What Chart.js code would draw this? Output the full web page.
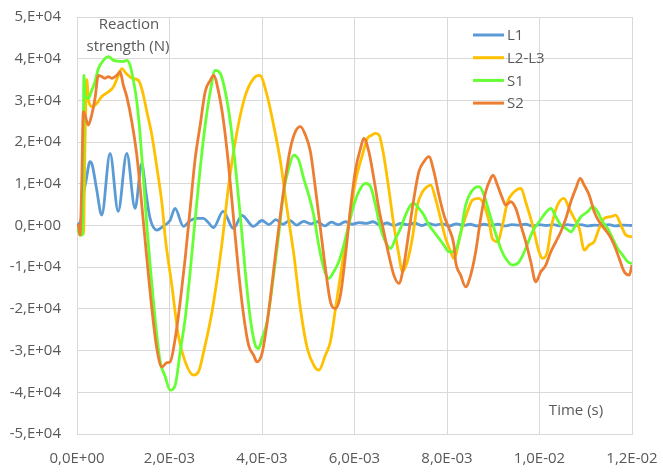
<!DOCTYPE html>
<html><head><meta charset="utf-8">
<script src="https://cdn.jsdelivr.net/npm/chart.js@4.4.1/dist/chart.umd.min.js"></script>
<style>html,body{margin:0;padding:0;background:#fff}#wrap{width:663px;height:474px;position:relative}</style>
</head><body><div id="wrap"><canvas id="c" width="663" height="474"></canvas></div>
<script>
// Series names and colours
const seriesNames = ['L1', 'L2-L3', 'S1', 'S2'];
const seriesColors = ['#5B9BD5', '#FFC000', '#66FF33', '#ED7D31'];

// Time in ms, reaction strength in kN
const timeL1 = [0,0.1,0.15,0.2,0.28,0.33,0.42,0.535,0.715,0.89,1.076,1.256,1.40,1.49,1.58,1.73,1.86,2.01,2.12,2.30,2.45,2.59,2.73,2.84,2.95,3.16,3.38,3.57,3.81,4.0,4.15,4.3,4.45,4.6,4.75,4.9,5.05,5.2,5.35,5.5,5.65,5.8,5.95,6.1,6.25,6.4,6.55,6.7,6.85,7.0,7.15,7.3,7.45,7.6,7.75,7.9,8.05,8.2,8.35,8.5,8.65,8.8,8.95,9.1,9.25,9.4,9.55,9.7,9.85,10.0,10.15,10.3,10.45,10.6,10.75,10.9,11.05,11.2,11.35,11.5,11.65,11.8,12.0];
const valL1 = [0,2,8,11,15.3,14.5,9,2.5,17.3,3.4,17.3,4.1,14.9,8,1.7,-1.1,-0.2,1.2,4.1,-0.2,1.2,1.7,1.7,0.7,-0.5,3.4,-0.7,2.4,-0.2,1.2,0.2,1.4,0.3,1.2,0.1,1.0,0.4,0.9,-0.1,0.8,0.2,0.9,0.3,0.7,0.5,0.9,0.1,0.6,0.0,0.5,0.2,0.6,0.0,0.5,0.1,0.4,-0.1,0.4,0.0,0.3,-0.1,0.3,0.0,0.3,-0.1,0.2,0.1,0.3,-0.1,0.2,0.0,0.2,-0.1,0.2,0.0,0.2,-0.1,0.1,0.0,0.2,-0.1,0.1,0.0];

const timeL2 = [0,0.06,0.14,0.17,0.21,0.25,0.33,0.43,0.54,0.63,0.72,0.79,0.87,0.97,1.06,1.19,1.33,1.41,1.51,1.62,1.73,1.84,1.91,2.05,2.19,2.34,2.52,2.63,2.74,2.92,3.13,3.28,3.46,3.64,3.82,3.95,4.11,4.25,4.40,4.54,4.69,4.83,4.98,5.12,5.23,5.37,5.48,5.59,5.73,5.88,6.02,6.17,6.28,6.38,6.45,6.53,6.63,6.74,6.85,6.96,7.03,7.14,7.25,7.36,7.47,7.57,7.65,7.75,7.86,7.97,8.08,8.15,8.30,8.44,8.55,8.69,8.80,8.91,8.98,9.09,9.20,9.31,9.42,9.60,9.70,9.85,9.99,10.07,10.17,10.25,10.39,10.53,10.64,10.75,10.86,10.97,11.07,11.18,11.29,11.40,11.54,11.65,11.76,11.87,12.0];
const valL2 = [0,-2,-2,18,35,30,28.5,29.3,31,31.7,32.4,33.3,35.3,37.6,36.5,35.3,34.8,32.4,27.3,21.6,13.7,5,-3.1,-14.3,-26.3,-32.7,-35.9,-35,-30.2,-20.6,-4.7,9.7,22.5,31.2,35.3,36,31.2,24.1,15.3,4.1,-7.1,-19.9,-29.5,-33.5,-34.7,-31.1,-27.8,-19.9,-9.5,0.9,10.5,16.9,20.9,21.7,22.1,21.7,16.9,8.9,0.1,-7.1,-11.1,-8.7,-3.1,4.9,8.1,9.3,9.7,6.5,1.7,-3.1,-6.3,-7.9,-1.5,3.3,6.1,6.5,4.9,0.9,-3.1,-3.9,0.1,5.7,7.7,8.9,5.7,0.1,-6.3,-7.9,-6.3,-0.7,4.9,6.5,4.1,1.7,-0.7,-5.9,-4.7,-3.9,-0.7,1.7,2.1,2.5,0.1,-2.3,-2.7];

const timeS1 = [0,0.065,0.12,0.15,0.173,0.245,0.318,0.39,0.461,0.57,0.678,0.786,0.895,1.003,1.076,1.148,1.219,1.293,1.365,1.436,1.51,1.581,1.653,1.726,1.798,1.906,2.014,2.123,2.231,2.339,2.447,2.556,2.664,2.772,2.881,2.989,3.097,3.206,3.314,3.422,3.53,3.639,3.747,3.855,3.927,4.0,4.109,4.252,4.36,4.468,4.577,4.685,4.793,4.901,5.01,5.118,5.226,5.335,5.443,5.551,5.66,5.768,5.876,5.984,6.13,6.238,6.346,6.454,6.563,6.671,6.779,6.888,6.996,7.104,7.212,7.284,7.392,7.5,7.609,7.717,7.825,7.934,8.042,8.15,8.295,8.404,8.584,8.692,8.8,8.908,9.017,9.162,9.27,9.415,9.558,9.703,9.848,9.991,10.136,10.245,10.353,10.461,10.57,10.678,10.786,10.894,11.04,11.148,11.256,11.364,11.473,11.581,11.689,11.798,11.906,12.0];
const valS1 = [0,-2.3,-2.2,36,31.2,30.5,32.4,34.5,37.6,39.6,40.5,39.6,39.4,39.3,39.6,38.4,34.8,29.7,21.7,11.3,0.1,-9.5,-18.3,-26.3,-32.7,-36.2,-39.5,-38.3,-30.3,-22.3,-11.1,1.7,13.7,24.1,32.1,37.2,36.5,32.1,24.9,14.5,2.5,-11.1,-22.3,-28.7,-29.5,-27.1,-23.1,-11.9,-2.3,8.1,13.7,16.9,15.7,11.3,7.3,2.5,-4.7,-10.3,-12.7,-11.1,-8.7,-4.7,0.1,4.9,8.9,10.1,9.3,4.9,-0.7,-3.9,-5.5,-3.1,-0.7,2.5,4.9,5.3,4.1,2.5,0.1,-1.5,-3.1,-4.7,-6.3,-6.3,-1.9,4.9,8.9,9.3,7.3,3.3,-0.7,-5.5,-7.9,-9.5,-8.7,-5.5,-1.5,0.9,3.1,4.1,2.1,0.1,-0.7,-1.5,0.1,2.1,3.3,4.5,3.3,0.9,-0.7,-3.1,-5.5,-7.1,-8.7,-9.1];

const timeS2 = [0,0.03,0.065,0.10,0.136,0.173,0.245,0.318,0.39,0.461,0.535,0.606,0.678,0.752,0.86,0.931,1.003,1.076,1.185,1.293,1.401,1.51,1.618,1.726,1.835,1.943,2.014,2.123,2.231,2.339,2.447,2.556,2.664,2.772,2.881,2.952,3.06,3.169,3.277,3.385,3.494,3.602,3.71,3.818,3.892,4.0,4.072,4.18,4.289,4.397,4.505,4.614,4.722,4.83,4.938,5.047,5.155,5.263,5.371,5.48,5.588,5.696,5.805,5.913,6.021,6.13,6.201,6.31,6.418,6.526,6.634,6.742,6.851,6.959,7.067,7.176,7.284,7.392,7.5,7.609,7.717,7.825,7.934,8.042,8.15,8.187,8.295,8.404,8.512,8.62,8.728,8.837,8.945,8.995,9.09,9.199,9.27,9.378,9.487,9.595,9.703,9.811,9.92,10.028,10.136,10.245,10.353,10.461,10.57,10.678,10.786,10.879,10.966,11.074,11.183,11.291,11.399,11.507,11.616,11.724,11.832,11.94,12.0];
const valS2 = [0,0,-2.3,8.9,27.3,26.5,24.1,26.5,30.5,36,35.7,35.3,35.7,35.3,36,36.9,33.6,30.9,24.9,16.9,4.9,-7.9,-19.9,-29.5,-33.9,-32.9,-32.7,-27.1,-18.3,-7.9,4.1,16.1,24.1,32.1,34.8,36,32.1,24.9,14.5,1.7,-11.1,-21.5,-28.7,-31.1,-32.7,-30.7,-26.3,-17.5,-7.1,2.5,11.3,18.5,22.5,23.7,21.7,17.7,8.9,-0.7,-10.3,-18.3,-19.9,-16.7,-7.1,4.1,13.3,18.5,20.9,17.7,11.3,4.1,-1.5,-7.1,-11.9,-13.9,-9.5,-1.5,6.5,12.9,15.3,16.5,12.9,7.3,2.5,-0.7,-4.7,-8.7,-11.9,-14.7,-11.9,-6.3,1.7,8.1,11.3,12.1,9.7,6.5,4.9,5.7,4.1,0.1,-3.9,-8.7,-13.5,-11.1,-9.5,-6.3,-3.9,-1.5,1.7,5.7,8.9,11.3,9.7,7.3,3.3,0.9,-0.7,-2.3,-4.7,-7.9,-11.1,-11.9,-9.5];

// Axis settings (seconds / newtons)
const xMin = 0, xMax = 0.012, xStep = 0.002;
const yMin = -50000, yMax = 50000, yStep = 10000;
const yTitleLines = ['Reaction', 'strength (N)'];
const xTitle = 'Time (s)';

const seriesTimes = [timeL1, timeL2, timeS1, timeS2];
const seriesVals = [valL1, valL2, valS1, valS2];

function toPoints(t, v) { return t.map((tt, i) => ({ x: tt / 1000, y: v[i] * 1000 })); }

function fmtX(v) {
  if (Math.abs(v) < 1e-12) return '0,0E+00';
  let e = Math.floor(Math.log10(Math.abs(v)) + 1e-9);
  let m = v / Math.pow(10, e);
  let ms = m.toFixed(1).replace('.', ',');
  let es = (e < 0 ? '-' : '+') + String(Math.abs(e)).padStart(2, '0');
  return ms + 'E' + es;
}
function fmtY(v) {
  if (Math.abs(v) < 1e-6) return '0,E+00';
  return Math.round(v / 10000) + ',E+04';
}

const FONT = "'Open Sans', 'DejaVu Sans', sans-serif";
const TXT = '#595959';
const GRID = '#D9D9D9';

const overlay = {
  id: 'overlay',
  afterDraw(chart) {
    const ctx = chart.ctx;
    ctx.save();
    ctx.fillStyle = TXT;
    ctx.font = '15px ' + FONT;
    ctx.textAlign = 'center';
    ctx.textBaseline = 'middle';
    ctx.fillText(yTitleLines[0], 129, 25);
    ctx.fillText(yTitleLines[1], 128, 47);
    ctx.fillText(xTitle, 576, 411);
    // legend
    ctx.textAlign = 'left';
    seriesNames.forEach((n, i) => {
      const y = 35 + i * 22.7;
      ctx.strokeStyle = seriesColors[i];
      ctx.lineWidth = 3;
      ctx.beginPath();
      ctx.moveTo(473, y);
      ctx.lineTo(504, y);
      ctx.stroke();
      ctx.fillText(n, 507, y + 1);
    });
    ctx.restore();
  }
};

Chart.defaults.font.family = FONT;
Chart.defaults.font.size = 15;
Chart.defaults.color = TXT;

new Chart(document.getElementById('c'), {
  type: 'scatter',
  data: {
    datasets: seriesNames.map((n, i) => ({
      label: n,
      data: toPoints(seriesTimes[i], seriesVals[i]),
      showLine: true,
      borderColor: seriesColors[i],
      backgroundColor: seriesColors[i],
      borderWidth: 2.8,
      pointRadius: 0,
      cubicInterpolationMode: 'monotone',
      order: seriesNames.length - i
    }))
  },
  options: {
    responsive: false,
    animation: false,
    devicePixelRatio: 1,
    layout: { padding: { top: 17, right: 31, left: 0, bottom: 0 } },
    plugins: { legend: { display: false }, tooltip: { enabled: false } },
    scales: {
      x: {
        type: 'linear', min: xMin, max: xMax,
        ticks: { stepSize: xStep, callback: v => fmtX(v), padding: 16, maxRotation: 0, color: TXT },
        grid: { color: GRID, drawTicks: false },
        border: { color: GRID },
        afterFit(s) { s.height = 40; s.paddingLeft = 0; s.paddingRight = 0; }
      },
      y: {
        type: 'linear', min: yMin, max: yMax,
        ticks: { stepSize: yStep, callback: v => fmtY(v), padding: 16, color: TXT },
        grid: { color: GRID, drawTicks: false },
        border: { color: GRID },
        afterFit(s) { s.width = 77; s.paddingTop = 0; s.paddingBottom = 0; }
      }
    }
  },
  plugins: [overlay]
});
</script>
</body></html>
